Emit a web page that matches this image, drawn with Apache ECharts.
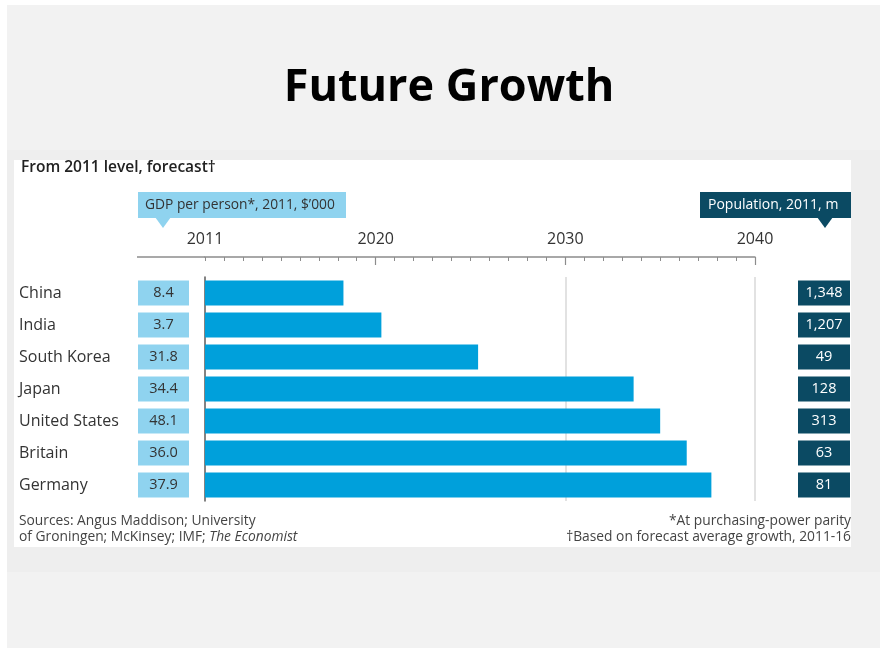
<!DOCTYPE html>
<html>
<head>
<meta charset="utf-8">
<script src="https://cdn.jsdelivr.net/npm/echarts@6/dist/echarts.min.js"></script>
<style>
  html, body { margin: 0; padding: 0; background: #ffffff; }
  #chart { width: 880px; height: 648px; }
</style>
</head>
<body>
<div id="chart"></div>
<script>
// Countries, top to bottom
const countries = ['China', 'India', 'South Korea', 'Japan', 'United States', 'Britain', 'Germany'];
// Year each bar reaches (bars start at 2011)
const forecastYear = [2018.3, 2020.3, 2025.4, 2033.6, 2035.0, 2036.4, 2037.7];
// GDP per person, 2011, $'000
const gdpPerPerson = ['8.4', '3.7', '31.8', '34.4', '48.1', '36.0', '37.9'];
// Population, 2011, m
const population = ['1,348', '1,207', '49', '128', '313', '63', '81'];
// Year labels on the top axis, and the years that get a long tick
const yearLabels = [2011, 2020, 2030, 2040];
const majorTickYears = [2020, 2030, 2040];

const FONT = 'Open Sans';
const chart = echarts.init(document.getElementById('chart'), null, { renderer: 'canvas' });

const option = {
  backgroundColor: '#ffffff',
  animation: false,
  title: {
    text: 'Future Growth',
    left: 444,
    textAlign: 'center',
    top: 61,
    textStyle: { fontFamily: FONT, fontSize: 45, fontWeight: 'bold', color: '#000000' }
  },
  graphic: [
    // page and panel backgrounds
    { type: 'rect', z: -10, silent: true, shape: { x: 7, y: 5, width: 873, height: 643 }, style: { fill: '#f2f2f2' } },
    { type: 'rect', z: -10, silent: true, shape: { x: 7, y: 150, width: 873, height: 422 }, style: { fill: '#eeeeee' } },
    { type: 'rect', z: -10, silent: true, shape: { x: 14, y: 160, width: 837, height: 387 }, style: { fill: '#ffffff' } },
    // subtitle
    { type: 'text', x: 21, y: 168, style: { text: 'From 2011 level, forecast\u2020', font: '600 15.5px "' + FONT + '"', fill: '#222222', verticalAlign: 'middle' } },
    // GDP header tag
    { type: 'rect', shape: { x: 138, y: 192, width: 208, height: 26 }, style: { fill: '#8fd3ef' } },
    { type: 'polygon', shape: { points: [[155, 217], [171, 217], [163, 228]] }, style: { fill: '#8fd3ef' } },
    { type: 'text', x: 145, y: 205, style: { text: 'GDP per person*, 2011, $\u2019000', font: '13.8px "' + FONT + '"', fill: '#333333', verticalAlign: 'middle' } },
    // Population header tag
    { type: 'rect', shape: { x: 700, y: 192, width: 151, height: 26 }, style: { fill: '#0b4a63' } },
    { type: 'polygon', shape: { points: [[817, 217], [833, 217], [825, 228]] }, style: { fill: '#0b4a63' } },
    { type: 'text', x: 708, y: 205, style: { text: 'Population, 2011, m', font: '14px "' + FONT + '"', fill: '#ffffff', verticalAlign: 'middle' } },
    // axis rule continues over the GDP column
    { type: 'line', shape: { x1: 137, y1: 257, x2: 205, y2: 257 }, style: { stroke: '#8c8c8c', lineWidth: 1.5 } },
    // footnotes
    { type: 'text', x: 19, y: 521, style: { text: 'Sources: Angus Maddison; University', font: '13.8px "' + FONT + '"', fill: '#444444', verticalAlign: 'middle' } },
    { type: 'text', x: 19, y: 537, style: {
        text: '{a|of Groningen; McKinsey; IMF; }{b|The Economist}',
        verticalAlign: 'middle',
        rich: {
          a: { fontFamily: FONT, fontSize: 13.8, fill: '#444444' },
          b: { fontFamily: FONT, fontSize: 13.8, fontStyle: 'italic', fill: '#444444' }
        } } },
    { type: 'text', x: 851, y: 521, style: { text: '*At purchasing-power parity', font: '13.8px "' + FONT + '"', fill: '#444444', align: 'right', verticalAlign: 'middle' } },
    { type: 'text', x: 851, y: 537, style: { text: '\u2020Based on forecast average growth, 2011-16', font: '13.8px "' + FONT + '"', fill: '#444444', align: 'right', verticalAlign: 'middle' } }
  ],
  grid: { left: 205, right: 125, top: 277, bottom: 147, containLabel: false },
  xAxis: [
    {
      // yearly minor ticks and the axis rule
      type: 'value', position: 'top', offset: 20,
      min: 2011, max: 2040, interval: 1,
      axisLine: { show: true, lineStyle: { color: '#8c8c8c', width: 1.5 } },
      axisTick: { show: true, inside: true, length: 4, lineStyle: { color: '#8c8c8c', width: 1 } },
      axisLabel: { show: false },
      splitLine: { show: false }
    },
    {
      // decade labels, long ticks and gridlines
      type: 'value', position: 'top', offset: 20,
      min: 2011, max: 2040, interval: 10,
      axisLine: { show: false },
      axisTick: { show: true, inside: true, length: 8, customValues: majorTickYears, lineStyle: { color: '#8c8c8c', width: 1.2 } },
      axisLabel: {
        show: true, customValues: yearLabels, margin: 10,
        formatter: v => String(v),
        fontFamily: FONT, fontSize: 16, color: '#333333'
      },
      splitLine: { show: true, showMinLine: false, lineStyle: { color: '#d9d9d9', width: 1.5 } }
    }
  ],
  yAxis: [
    {
      type: 'category', data: countries, inverse: true,
      axisLine: { show: true, lineStyle: { color: '#5a5a5a', width: 1.5 } },
      axisTick: { show: false },
      axisLabel: { align: 'left', margin: 186, fontFamily: FONT, fontSize: 16, color: '#333333' }
    },
    {
      type: 'category', data: countries, inverse: true, position: 'left',
      axisLine: { show: false }, axisTick: { show: false },
      axisLabel: {
        align: 'left', margin: 67,
        formatter: (v, i) => '{g|' + gdpPerPerson[i] + '}',
        rich: { g: { width: 51, height: 25, lineHeight: 25, align: 'center', backgroundColor: '#8fd3ef',
                     color: '#333333', fontFamily: FONT, fontSize: 14.5 } }
      }
    },
    {
      type: 'category', data: countries, inverse: true, position: 'right',
      axisLine: { show: false }, axisTick: { show: false },
      axisLabel: {
        align: 'left', margin: 43,
        formatter: (v, i) => '{p|' + population[i] + '}',
        rich: { p: { width: 52, height: 25, lineHeight: 25, align: 'center', backgroundColor: '#0b4a63',
                     color: '#ffffff', fontFamily: FONT, fontSize: 14.5 } }
      }
    }
  ],
  series: [
    {
      type: 'bar', xAxisIndex: 0, yAxisIndex: 0,
      data: forecastYear,
      barWidth: 25,
      clip: true,
      itemStyle: { color: '#00a0db' },
      z: 3
    }
  ]
};

chart.setOption(option);
</script>
</body>
</html>
